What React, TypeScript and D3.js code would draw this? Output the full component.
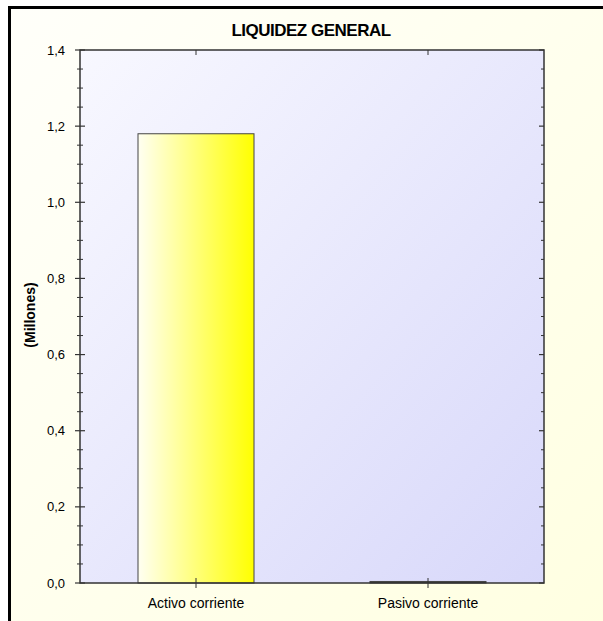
import React from "react";
import * as d3 from "d3";

const categories = ["Activo corriente", "Pasivo corriente"];
const values = [1.18, 0.004];
const yTicks = [0, 0.2, 0.4, 0.6, 0.8, 1.0, 1.2, 1.4];
const title = "LIQUIDEZ GENERAL";
const yLabel = "(Millones)";

const W = 603;
const H = 621;
const M = { left: 80, right: 544, top: 50, bottom: 583 };

export default function App() {
  const x = d3
    .scaleBand<string>()
    .domain(categories)
    .range([M.left, M.right])
    .paddingInner(0.5)
    .paddingOuter(0.25);
  const y = d3.scaleLinear().domain([0, 1.4]).range([M.bottom, M.top]);
  const minor = d3.range(0, 1.4 + 1e-9, 0.05).filter((v) => Math.abs(Math.round(v / 0.2) * 0.2 - v) > 1e-6);
  const fmt = (v: number) => d3.format(".1f")(v).replace(".", ",");
  const axisColor = "#333";
  const font = "'Liberation Sans', Arial, sans-serif";
  const center = (c: string) => (x(c) as number) + x.bandwidth() / 2;

  return (
    <svg
      width={W}
      height={H}
      style={{ position: "absolute", left: 0, top: 0 }}
      fontFamily={font}
    >
      <defs>
        <linearGradient id="bgG" x1="0" y1="0" x2="1" y2="1">
          <stop offset="0" stopColor="#fffffa" />
          <stop offset="1" stopColor="#ffffe0" />
        </linearGradient>
        <linearGradient id="plotG" x1="0" y1="0" x2="1" y2="1">
          <stop offset="0" stopColor="#f8f8ff" />
          <stop offset="1" stopColor="#d8d8fa" />
        </linearGradient>
        <linearGradient id="barG" x1="0" y1="0" x2="1" y2="0">
          <stop offset="0" stopColor="#fffff2" />
          <stop offset="1" stopColor="#ffff00" />
        </linearGradient>
      </defs>
      <rect x={0} y={0} width={W} height={H} fill="#fff" />
      <rect x={9.5} y={7.5} width={W + 20} height={H + 20} fill="url(#bgG)" stroke="#000" strokeWidth={3} />
      <rect
        x={M.left}
        y={M.top}
        width={M.right - M.left}
        height={M.bottom - M.top}
        fill="url(#plotG)"
      />
      {categories.map((c, i) => (
        <rect
          key={c}
          x={x(c)}
          y={y(values[i])}
          width={x.bandwidth()}
          height={Math.max(1.5, y(0) - y(values[i]))}
          fill={i === 0 ? "url(#barG)" : "#333"}
          stroke="#444"
          strokeWidth={1}
        />
      ))}
      <rect
        x={M.left}
        y={M.top}
        width={M.right - M.left}
        height={M.bottom - M.top}
        fill="none"
        stroke={axisColor}
        strokeWidth={1.5}
      />
      {yTicks.map((t) => (
        <g key={t}>
          <line x1={M.left - 5} x2={M.left + 5} y1={y(t)} y2={y(t)} stroke={axisColor} strokeWidth={1.2} />
          <line x1={M.right - 5} x2={M.right} y1={y(t)} y2={y(t)} stroke={axisColor} strokeWidth={1.2} />
          <text x={M.left - 15} y={y(t)} dy="0.35em" textAnchor="end" fontSize={13} fill="#000">
            {fmt(t)}
          </text>
        </g>
      ))}
      {minor.map((t) => (
        <g key={"m" + t}>
          <line x1={M.left - 3} x2={M.left + 3} y1={y(t)} y2={y(t)} stroke={axisColor} strokeWidth={1} />
          <line x1={M.right - 3} x2={M.right} y1={y(t)} y2={y(t)} stroke={axisColor} strokeWidth={1} />
        </g>
      ))}
      {categories.map((c) => (
        <g key={"x" + c}>
          <line x1={center(c)} x2={center(c)} y1={M.bottom - 5} y2={M.bottom + 5} stroke={axisColor} strokeWidth={1} />
          <line x1={center(c)} x2={center(c)} y1={M.top} y2={M.top + 5} stroke={axisColor} strokeWidth={1} />
          <text x={center(c)} y={608} textAnchor="middle" fontSize={14} fill="#000">
            {c}
          </text>
        </g>
      ))}
      <text x={311} y={36} textAnchor="middle" fontSize={17} fontWeight="bold" fill="#000" letterSpacing={-0.5}>
        {title}
      </text>
      <text
        transform={`translate(35, 315) rotate(-90)`}
        textAnchor="middle"
        fontSize={14}
        fontWeight="bold"
        fill="#000"
      >
        {yLabel}
      </text>
    </svg>
  );
}
